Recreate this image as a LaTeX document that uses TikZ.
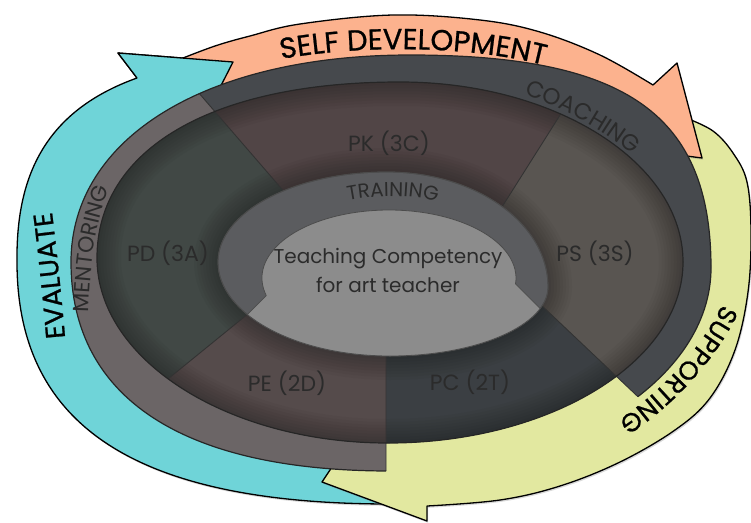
\documentclass[tikz,border=0pt]{standalone}
\usepackage{fontspec}
\newfontfamily\diagfont{Poppins}
\newfontfamily\bandfont[FakeBold=0.8]{Poppins}
\usetikzlibrary{decorations.text}
\usetikzlibrary{shadows}

\definecolor{evalcyan}{HTML}{6FD4D8}
\definecolor{selfsalmon}{HTML}{FCB28E}
\definecolor{supportlime}{HTML}{E2E8A0}
\definecolor{coachgrey}{HTML}{46494D}
\definecolor{mentorgrey}{HTML}{6B6566}
\definecolor{pkbrown}{HTML}{514546}
\definecolor{psgrey}{HTML}{595551}
\definecolor{pcslate}{HTML}{3B3F43}
\definecolor{pebrown}{HTML}{554B4B}
\definecolor{pdgreen}{HTML}{414845}
\definecolor{traingrey}{HTML}{5B5C5F}
\definecolor{coregrey}{HTML}{8C8C8C}
\definecolor{labelgrey}{HTML}{2B2B2B}

% outlines of the three grey rings (pixel coordinates, y down)
\newcommand{\outerringpath}{(71,262) .. controls (71,137.8) and (206.6,55) .. (410,55) .. controls (626.7,55) and (711,114.6) .. (711,268) .. controls (711,379.7) and (566.6,471) .. (390,471) .. controls (182.6,471) and (71,397.9) .. (71,262) -- cycle}
\newcommand{\midellipsepath}{(97,258) .. controls (97,148.9) and (212.1,82) .. (400,82) .. controls (555.7,82) and (683,163) .. (683,262) .. controls (683,361.6) and (550.3,443) .. (388,443) .. controls (228,443) and (97,359.8) .. (97,258) -- cycle}
\newcommand{\trainingpath}{(218,262) .. controls (218,212.3) and (293.7,172) .. (387,172) .. controls (475.9,172) and (548,223.5) .. (548,287) .. controls (548,325.1) and (477.2,356) .. (390,356) .. controls (295.1,356) and (218,313.9) .. (218,262) -- cycle}

\begin{document}
\begin{tikzpicture}[x=1pt, y=-1pt,
    arrowband/.style={draw=black, line width=1.3pt, line join=round,
      drop shadow={opacity=0.3, shadow xshift=1.2pt, shadow yshift=-1.8pt}},
    arrowline/.style={draw=black, line width=1.3pt, line join=round},
    ringedge/.style={draw=black!85, line width=1.2pt},
    cutline/.style={draw=black!80, line width=0.9pt},
    coreline/.style={draw=black!70, line width=0.8pt},
    innershade/.style={draw=black, opacity=0.03},
    sectorlabel/.style={text=labelgrey, font=\diagfont\fontsize{22}{22}\selectfont},
    corelabel/.style={text=labelgrey, font=\diagfont\fontsize{20}{29}\selectfont, align=center},
    bandtext/.style n args={3}{decorate, decoration={text along path, text align=center,
      text color=#1, text={|\bandfont\fontsize{#2}{#2}\selectfont|#3}}},
    ringtext/.style n args={3}{decorate, decoration={text along path, text align=center,
      text color=#1, text={|\diagfont\fontsize{#2}{#2}\selectfont|#3}}}]
  \useasboundingbox (0,0) rectangle (751,522);

  % sector borders: inner end, far outer end
  \coordinate (ctr) at (390,265);
  \coordinate (in1) at (300,210);  \coordinate (far1) at (32,-100);
  \coordinate (in2) at (495,218);  \coordinate (far2) at (696,-100);
  \coordinate (in3) at (520,285);  \coordinate (far3) at (900,645);
  \coordinate (in4) at (386,330);  \coordinate (far4) at (386,650);
  \coordinate (in5) at (265,300);  \coordinate (far5) at (-100,597);

  % the three arrows
  \filldraw[arrowband, fill=evalcyan] (390,504) .. controls (136,504) and (17,426) .. (17,262)
    .. controls (16,180) and (42,112) .. (137,78) -- (118,53) -- (233,62) -- (205,117)
    -- (ctr) -- (390,480) -- cycle;
  \filldraw[arrowband, fill=supportlime] plot[smooth, tension=0.6] coordinates {(686,118) (713,131) (733,153)
    (747,182) (751,232) (748,292) (735,350) (710,398) (675,430) (620,462) (560,486) (500,500) (427,506)}
    -- (427,521) -- (322,482) -- (350,440) -- (ctr) -- (650,150) -- cycle;
  \filldraw[arrowband, fill=selfsalmon] plot[smooth, tension=0.6] coordinates {(178,60) (215,46) (250,36)
    (300,24) (393,15) (480,20) (540,32) (600,55) (653,85)}
    -- (677,63) -- (702,158) -- (640,150) -- (ctr) -- (200,120) -- cycle;
  \fill[evalcyan] (137,78) -- (118,53) -- (233,62) -- (205,117) -- cycle;
  \draw[arrowline] (137,78) -- (118,53) -- (233,62) -- (205,117);

  % mentoring and coaching ring
  \begin{scope}
    \clip \outerringpath;
    \fill[mentorgrey] (ctr) -- (in4) -- (far4) -- (-100,650) -- (-100,-100) -- (far1) -- (in1) -- cycle;
    \fill[coachgrey] (ctr) -- (in1) -- (far1) -- (900,-100) -- (far3) -- (in3) -- cycle;
    \draw[cutline] (in1) -- (far1) (in3) -- (far3) (in4) -- (far4);
  \end{scope}
  \begin{scope}
    \clip (ctr) -- (in3) -- (far3) -- (900,-100) -- (-100,-100) -- (-100,650) -- (far4) -- (in4) -- cycle;
    \draw[ringedge] \outerringpath;
  \end{scope}

  % five sectors, darker towards their edges
  \begin{scope}
    \clip \midellipsepath;
    \fill[pdgreen] (0,0) rectangle (751,522);
    \fill[pkbrown] (ctr) -- (in1) -- (far1) -- (far2) -- (in2) -- cycle;
    \fill[psgrey] (ctr) -- (in2) -- (far2) -- (900,-100) -- (far3) -- (in3) -- cycle;
    \fill[pcslate] (ctr) -- (in3) -- (far3) -- (900,650) -- (far4) -- (in4) -- cycle;
    \fill[pebrown] (ctr) -- (in4) -- (far4) -- (-100,650) -- (far5) -- (in5) -- cycle;
    \foreach \w in {6,12,...,48} {
      \draw[innershade, line width=\w pt] \midellipsepath;
      \draw[innershade, line width=\w pt] \trainingpath;
    }
    \draw[cutline] (in1) -- (far1) (in2) -- (far2) (in3) -- (far3) (in4) -- (far4) (in5) -- (far5);
  \end{scope}
  \draw[ringedge] \midellipsepath;

  % training ring and core
  \filldraw[fill=traingrey, coreline] \trainingpath;
  \begin{scope}
    \clip (236.3,325.6) -- (266.3,295.6) -- (515.5,283.9) -- (555.5,323.9) -- (600,420) -- (200,420) -- cycle;
    \fill[coregrey] \trainingpath;
  \end{scope}
  \fill[coregrey] (389,278) ellipse [x radius=127pt, y radius=68pt];
  \draw[coreline] (266.3,295.6) arc[start angle=195, end angle=-5, x radius=127pt, y radius=68pt];
  \begin{scope}
    \clip \trainingpath;
    \draw[coreline] (266.3,295.6) -- (236.3,325.6) (515.5,283.9) -- (555.5,323.9);
  \end{scope}
  \draw[coreline] \trainingpath;

  % texts along the bands
  \path[bandtext={black}{29}{SELF DEVELOPMENT}] (258,64) .. controls (340,44) and (480,42) .. (567,72);
  \path[bandtext={black}{27}{EVALUATE}] (67,360) .. controls (62,300) and (56,240) .. (49,190);
  \path[bandtext={black}{26}{SUPPORTING}] (732,280) .. controls (716,330) and (670,392) .. (596,434);
  \path[ringtext={labelgrey}{22}{MENTORING}] (89,330) .. controls (88,270) and (96,215) .. (116,172);
  \path[ringtext={labelgrey}{23}{COACHING}] (505,89) .. controls (555,103) and (605,128) .. (648,168);
  \path[ringtext={labelgrey}{20}{TRAINING}] (330,205) .. controls (370,193) and (420,193) .. (455,207);

  % sector labels
  \node[sectorlabel] (pk) at (389,143) {PK (3C)};
  \node[sectorlabel] (ps) at (595,253) {PS (3S)};
  \node[sectorlabel] (pd) at (168,253) {PD (3A)};
  \node[sectorlabel] (pe) at (287,383) {PE (2D)};
  \node[sectorlabel] (pc) at (470,382) {PC (2T)};
  \node[corelabel] (core) at (388,270) {Teaching Competency\\for art teacher};
\end{tikzpicture}
\end{document}
